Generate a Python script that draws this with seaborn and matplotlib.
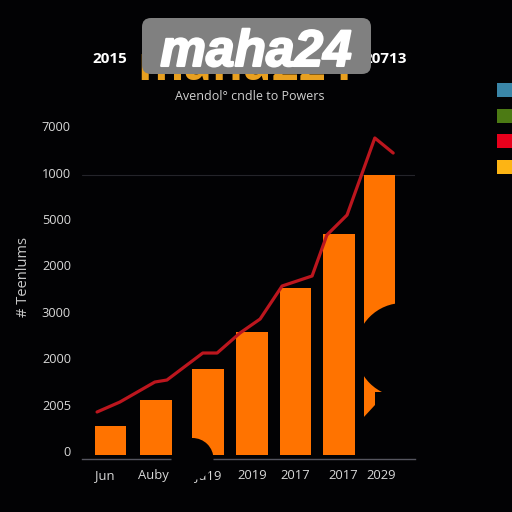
import pandas as pd
import matplotlib
matplotlib.use('Agg')
import matplotlib.pyplot as plt
import matplotlib.patheffects as pe
import seaborn as sns
from matplotlib.patches import Circle, FancyBboxPatch, Polygon, Rectangle
from matplotlib.transforms import ScaledTranslation

# values
bar_periods = [0, 1.02, 2.18, 3.16, 4.13, 5.10, 6.0]
bar_values = [625, 1185, 1853, 2651, 3599, 4763, 6034]
line_periods = [-0.30, 0.21, 0.99, 1.26, 2.06, 2.38, 2.89, 3.34, 3.83, 4.50, 4.83, 5.28, 5.90, 6.31]
line_values = [927, 1142, 1573, 1616, 2198, 2198, 2629, 2931, 3642, 3858, 4741, 5172, 6832, 6508]
x_ticks = [-0.12, 0.96, 2.18, 3.16, 4.13, 5.20, 6.05]
x_labels = ['Jun', 'Auby', 'Ju19', '2019', '2017', '2017', '2029']
y_ticks = [0, 1000, 2000, 3000, 4000, 5000, 6000, 7000]
y_labels = ['0', '2005', '2000', '3000', '2000', '5000', '1000', '7000']
legend_colors = ['#3a86a8', '#4c7a14', '#e8001c', '#fdb414']

BG = '#020204'
SIZE = 512


# figure pixels, measured from the top left corner
def px(x, y):
    return x / SIZE, 1 - y / SIZE


sns.set_theme(style='dark', rc={'axes.facecolor': BG, 'figure.facecolor': BG})
plt.rcParams['font.family'] = ['Open Sans', 'DejaVu Sans']

fig = plt.figure(figsize=(5.12, 5.12), dpi=100)
ax = fig.add_axes([82 / SIZE, (SIZE - 459) / SIZE, 333 / SIZE, 349 / SIZE])

bars = pd.DataFrame({'period': bar_periods, 'value': bar_values})
line = pd.DataFrame({'period': line_periods, 'value': line_values})

sns.barplot(data=bars, x='period', y='value', native_scale=True, width=0.78,
            color='#ff7300', saturation=1, errorbar=None, linewidth=0, ax=ax)
sns.lineplot(data=line, x='period', y='value', color='#bc161e', linewidth=2.3,
             estimator=None, sort=False, ax=ax)

ax.set_xlim(-0.636, 6.797)
ax.set_ylim(-86, 7435)
ax.axhline(max(bar_values), color='#24242a', linewidth=0.8, zorder=0)
ax.set_xlabel('')
ax.set_ylabel('')
ax.grid(False)
sns.despine(ax=ax, left=True)
ax.spines['bottom'].set_color('#55555f')
ax.spines['bottom'].set_linewidth(1)

ax.set_xticks(x_ticks, labels=x_labels)
ax.set_yticks(y_ticks, labels=y_labels)
ax.tick_params(axis='x', length=0, pad=7, labelsize=9.4, labelcolor='#d8d8d8')
ax.tick_params(axis='y', length=0, pad=8, labelsize=9.2, labelcolor='#d8d8d8')

# y labels sit a little above their values
shift = ScaledTranslation(0, 4 / 100, fig.dpi_scale_trans)
for lab in ax.get_yticklabels():
    lab.set_transform(lab.get_transform() + shift)

# black blobs eating into the bars
black = dict(facecolor=BG, edgecolor='none', transform=None, zorder=2)
w = fig.bbox.width
h = fig.bbox.height
def dev(x, y):
    return x * w / SIZE, h - y * h / SIZE

fig.add_artist(Circle(dev(192.5, 459), 21, **black))
fig.add_artist(Circle(dev(403, 350), 47, **black))
corner = [(375, 392), (375, 405), (363, 418), (363, 456.5), (397, 456.5), (397, 392)]
fig.add_artist(Polygon([dev(*p) for p in corner], **black))

# legend swatches, no names visible
for color, y0 in zip(legend_colors, [83, 109, 134, 160]):
    fig.add_artist(Rectangle(dev(497, y0 + 14), 15, 14, facecolor=color, edgecolor='none',
                             transform=None, zorder=2))

# titles
fig.text(*px(245, 80), 'maha224', color='#e8a020', fontsize=34, fontweight='bold',
         ha='center', va='baseline', zorder=3)
fig.text(*px(109.5, 59), '2015', color='white', fontsize=11, fontweight='bold',
         ha='center', va='center', zorder=3)
fig.text(*px(407, 59), '20713', color='white', fontsize=11, fontweight='bold',
         ha='right', va='center', zorder=3)
fig.text(*px(250, 97), 'Avendol° cndle to Powers', color='#d0d0d0', fontsize=9,
         ha='center', va='center', zorder=3)
fig.text(*px(24, 277), '# Teenlums', color='#c8c8c8', fontsize=10.5, rotation=90,
         ha='center', va='center', zorder=3)

# watermark on top
x0, y0 = dev(142, 74)
x1, y1 = dev(371, 18)
fig.add_artist(FancyBboxPatch((x0 + 8, y0 + 8), x1 - x0 - 16, y1 - y0 - 16,
                              boxstyle='round,pad=8,rounding_size=9', facecolor='#808080',
                              edgecolor='none', transform=None, zorder=5))
mark = fig.text(*px(256, 66), 'maha24', color='white', fontsize=37, fontweight='bold', style='italic',
                family=['Liberation Sans'], ha='center', va='baseline', zorder=6)
mark.set_path_effects([pe.withStroke(linewidth=1.5, foreground='white')])

fig.savefig('out.png', dpi=100, facecolor=BG)
